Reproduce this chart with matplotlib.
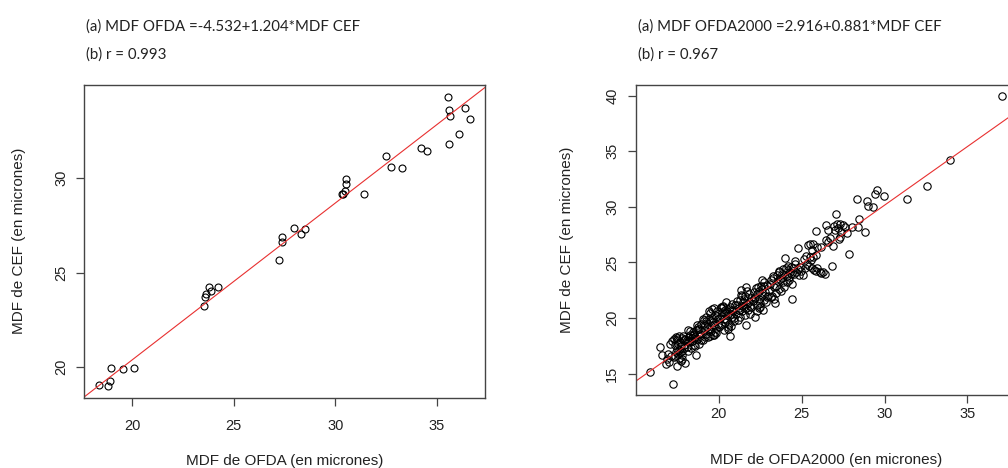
import matplotlib.pyplot as plt
import numpy as np

# MDF measured with OFDA vs CEF (microns)
ofda = [35.53, 35.60, 35.67, 36.39, 36.64, 36.07, 35.62, 34.21, 34.50, 32.48,
        32.74, 33.29, 30.54, 30.54, 30.49, 30.31, 30.36, 31.41, 27.96, 28.53,
        28.30, 27.40, 27.40, 27.25, 23.80, 24.21, 23.91, 23.62, 23.59, 23.54,
        18.96, 19.57, 20.10, 18.91, 18.37, 18.83]
cef = [34.32, 33.60, 33.28, 33.72, 33.15, 32.36, 31.82, 31.61, 31.46, 31.15,
       30.60, 30.55, 29.95, 29.70, 29.31, 29.15, 29.15, 29.15, 27.34, 27.29,
       27.04, 26.90, 26.62, 25.67, 24.24, 24.24, 24.03, 23.89, 23.71, 23.22,
       19.93, 19.88, 19.98, 19.28, 19.03, 18.98]

# MDF measured with OFDA2000 vs CEF (microns)
ofda2000 = [
    15.85, 16.45, 16.57, 16.90, 17.00, 17.06, 17.26, 16.95, 17.10, 16.80,
    17.20, 17.30, 17.35, 17.40, 17.45, 17.50, 17.55, 17.60, 17.65, 17.70,
    17.75, 17.80, 17.85, 17.90, 17.95, 17.30, 17.40, 17.50, 17.60, 17.70,
    17.80, 17.90, 17.52, 17.98, 17.45, 17.62, 17.75, 17.88, 17.35, 17.68,
    18.05, 18.10, 18.12, 18.20, 18.25, 18.30, 18.35, 18.40, 18.45, 18.50,
    18.55, 18.60, 18.63, 18.70, 18.75, 18.80, 18.85, 18.90, 18.95, 18.15,
    18.28, 18.42, 18.58, 18.72, 18.88, 18.35, 18.66, 18.50, 18.20, 18.82,
    19.03, 19.03, 19.10, 19.15, 19.20, 19.25, 19.30, 19.35, 19.40, 19.44,
    19.44, 19.50, 19.55, 19.60, 19.65, 19.70, 19.75, 19.80, 19.84, 19.90,
    19.95, 19.12, 19.22, 19.32, 19.48, 19.58, 19.68, 19.78, 19.88, 19.98,
    19.38, 19.62, 19.18, 19.72, 19.92,
    20.05, 20.10, 20.15, 20.20, 20.25, 20.30, 20.35, 20.40, 20.44, 20.50,
    20.55, 20.60, 20.65, 20.70, 20.75, 20.80, 20.85, 20.90, 20.95, 20.12,
    20.22, 20.32, 20.42, 20.52, 20.62, 20.72, 20.82, 20.92, 20.28, 20.58,
    20.78, 20.38,
    21.05, 21.10, 21.15, 21.20, 21.25, 21.30, 21.35, 21.40, 21.45, 21.50,
    21.55, 21.60, 21.65, 21.65, 21.70, 21.75, 21.80, 21.85, 21.90, 21.95,
    21.12, 21.22, 21.32, 21.42, 21.52, 21.62, 21.72, 21.82, 21.92, 21.38,
    22.05, 22.10, 22.16, 22.20, 22.25, 22.30, 22.36, 22.40, 22.45, 22.50,
    22.55, 22.60, 22.66, 22.70, 22.75, 22.80, 22.85, 22.90, 22.95, 22.12,
    22.28, 22.42, 22.58, 22.72, 22.88, 22.33, 22.63, 22.48,
    23.05, 23.10, 23.17, 23.20, 23.25, 23.30, 23.35, 23.41, 23.47, 23.50,
    23.55, 23.60, 23.65, 23.70, 23.75, 23.80, 23.85, 23.90, 23.97, 23.12,
    23.28, 23.44, 23.62, 23.78, 23.92,
    24.05, 24.10, 24.15, 24.20, 24.25, 24.30, 24.38, 24.44, 24.44, 24.50,
    24.55, 24.60, 24.68, 24.75, 24.80, 24.88, 24.95, 24.22, 24.35, 24.62,
    24.82, 24.12,
    25.08, 25.18, 25.28, 25.38, 25.44, 25.48, 25.52, 25.60, 25.69, 25.69,
    25.85, 25.85, 25.89, 25.93, 25.30, 25.55, 25.75, 25.12, 25.95, 25.65,
    26.09, 26.19, 26.41, 26.49, 26.49, 26.57, 26.81, 27.00, 26.30, 26.70,
    26.90, 26.15, 26.60, 26.95,
    27.06, 27.14, 27.26, 27.30, 27.30, 27.62, 27.74, 27.86, 27.40, 27.50,
    27.20, 28.05,
    28.35, 28.41, 28.47, 28.81, 28.91, 29.01, 29.31, 29.42, 29.56, 29.98,
    31.33, 32.58, 33.95, 37.08]
cef2000 = [
    15.18, 17.39, 16.67, 16.30, 16.00, 17.69, 14.10, 16.75, 16.55, 15.90,
    17.90, 18.10, 17.60, 18.30, 17.20, 18.00, 17.70, 18.40, 16.90, 17.50,
    18.20, 17.00, 18.40, 17.60, 18.10, 16.50, 16.90, 15.66, 16.40, 16.10,
    16.70, 17.30, 16.80, 15.96, 18.20, 17.15, 16.35, 18.05, 16.60, 17.85,
    17.40, 18.00, 18.94, 17.80, 18.50, 17.30, 18.20, 17.90, 18.70, 17.60,
    18.30, 18.90, 16.70, 18.10, 19.20, 17.70, 18.60, 19.50, 18.00, 17.00,
    18.80, 18.45, 17.50, 19.00, 18.35, 17.90, 19.40, 18.60, 18.25, 19.00,
    18.04, 19.90, 18.90, 19.40, 18.60, 19.70, 19.20, 18.30, 19.90, 18.34,
    20.43, 19.30, 18.80, 20.00, 19.60, 18.50, 20.30, 19.10, 18.64, 20.60,
    19.50, 19.80, 20.10, 19.00, 19.75, 20.85, 19.35, 18.70, 20.20, 19.15,
    20.60, 18.45, 18.30, 20.90, 19.90,
    20.00, 20.90, 19.40, 20.50, 21.00, 19.90, 20.70, 19.60, 21.48, 20.30,
    19.00, 20.80, 18.34, 21.00, 19.24, 20.10, 20.60, 19.70, 21.20, 20.95,
    20.20, 18.90, 19.90, 20.65, 19.50, 20.40, 21.30, 20.00, 21.05, 19.20,
    20.75, 20.45,
    20.40, 21.20, 19.80, 20.90, 21.60, 20.10, 22.52, 20.60, 21.40, 21.00,
    20.30, 22.00, 22.82, 19.39, 21.30, 20.70, 22.20, 21.10, 20.40, 21.80,
    21.50, 20.70, 22.10, 21.10, 21.70, 20.90, 22.40, 21.45, 21.00, 21.95,
    21.50, 22.30, 20.13, 21.90, 22.70, 21.20, 22.82, 21.70, 22.40, 21.00,
    22.90, 22.10, 20.73, 21.60, 23.20, 22.30, 21.40, 23.00, 22.00, 21.80,
    22.20, 20.90, 22.60, 22.90, 21.90, 20.60, 23.40, 21.35,
    22.50, 23.10, 23.42, 22.00, 23.60, 22.80, 21.70, 21.39, 22.22, 23.90,
    23.30, 22.60, 24.20, 23.50, 22.40, 24.00, 23.20, 24.40, 25.42, 21.90,
    23.80, 22.90, 24.10, 23.60, 22.80,
    24.50, 23.80, 24.30, 24.70, 23.40, 24.10, 23.96, 23.06, 21.69, 24.50,
    24.00, 24.90, 24.16, 24.40, 26.34, 24.61, 24.20, 23.70, 24.60, 25.10,
    23.90, 23.20,
    23.87, 24.46, 25.57, 26.55, 24.67, 25.51, 26.64, 24.46, 25.45, 26.70,
    25.66, 24.22, 27.84, 26.40, 24.90, 25.20, 24.30, 25.30, 24.50, 26.10,
    24.16, 26.40, 23.96, 28.37, 27.00, 27.90, 24.67, 27.90, 24.10, 27.20,
    26.50, 24.05, 26.80, 28.30,
    29.39, 28.43, 27.06, 28.49, 27.30, 28.19, 27.60, 25.75, 27.70, 28.35,
    28.10, 28.20,
    30.67, 28.19, 28.88, 27.69, 30.49, 30.04, 29.99, 31.18, 31.54, 30.97,
    30.67, 31.90, 34.19, 39.93]

# fitted lines (CEF on OFDA): intercept, slope
fit_ofda = (3.764, 0.8306)
fit_ofda2000 = (-1.50, 1.055)

titles = [("(a) MDF OFDA =-4.532+1.204*MDF CEF", "(b) r = 0.993"),
          ("(a) MDF OFDA2000 =2.916+0.881*MDF CEF", "(b) r = 0.967")]
xlabels = ["MDF de OFDA (en micrones)", "MDF de OFDA2000 (en micrones)"]
ylabel = "MDF de CEF (en micrones)"
xticks = [[20, 25, 30, 35], [20, 25, 30, 35]]
yticks = [[20, 25, 30], [15, 20, 25, 30, 35, 40]]

W, H = 1008, 468
fig = plt.figure(figsize=(W / 100, H / 100), dpi=100)
plt.rcParams['font.family'] = ['Liberation Sans', 'DejaVu Sans']


def rlim(v):
    # R style axis range: 4% extra on each side
    lo, hi = min(v), max(v)
    d = 0.04 * (hi - lo)
    return lo - d, hi + d


def panel(rect, x, y, fit, xt, yt, xpad, ypad, ms):
    ax = fig.add_axes(rect)
    ax.plot(x, y, 'o', mfc='none', mec='black', mew=0.8, ms=ms, linestyle='none')
    ax.axline((0, fit[0]), slope=fit[1], color='#e83030', lw=0.8)
    ax.set_xlim(*rlim(x))
    ax.set_ylim(*rlim(y))
    ax.set_xticks(xt)
    ax.set_yticks(yt)
    for s in ax.spines.values():
        s.set_color('#444444')
        s.set_linewidth(1.0)
    ax.tick_params(colors='#444444', labelcolor='#222222', length=6, width=0.9,
                   labelsize=10.5)
    ax.tick_params(axis='x', pad=xpad)
    ax.tick_params(axis='y', pad=ypad)
    for lab in ax.get_yticklabels():
        lab.set_rotation(90)
        lab.set_va('center')
        lab.set_ha('right')
    return ax


ax1 = panel([84 / W, 1 - 398 / H, 401 / W, 313 / H], ofda, cef, fit_ofda,
            xticks[0], yticks[0], 9, 5, 5.0)
ax2 = panel([636 / W, 1 - 395 / H, 380 / W, 310 / H], ofda2000, cef2000,
            fit_ofda2000, xticks[1], yticks[1], 3, 6, 5.3)

# equation and correlation above each panel
for x0, (l1, l2) in zip([86, 638], titles):
    fig.text(x0 / W, 1 - 27 / H, l1, fontsize=10.8, family=['Lato', 'DejaVu Sans'],
             color='#222222', va='center')
    fig.text(x0 / W, 1 - 55 / H, l2, fontsize=10.8, family=['Lato', 'DejaVu Sans'],
             color='#222222', va='center')

fig.text(284.5 / W, 1 - 461 / H, xlabels[0], fontsize=11, ha='center', va='center',
         color='#222222')
fig.text(826 / W, 1 - 460 / H, xlabels[1], fontsize=11, ha='center', va='center',
         color='#222222')
fig.text(19 / W, 1 - 241 / H, ylabel, fontsize=11, rotation=90, ha='center',
         va='center', color='#222222')
fig.text(567 / W, 1 - 240 / H, ylabel, fontsize=11, rotation=90, ha='center',
         va='center', color='#222222')

plt.savefig('out.png', dpi=100)
